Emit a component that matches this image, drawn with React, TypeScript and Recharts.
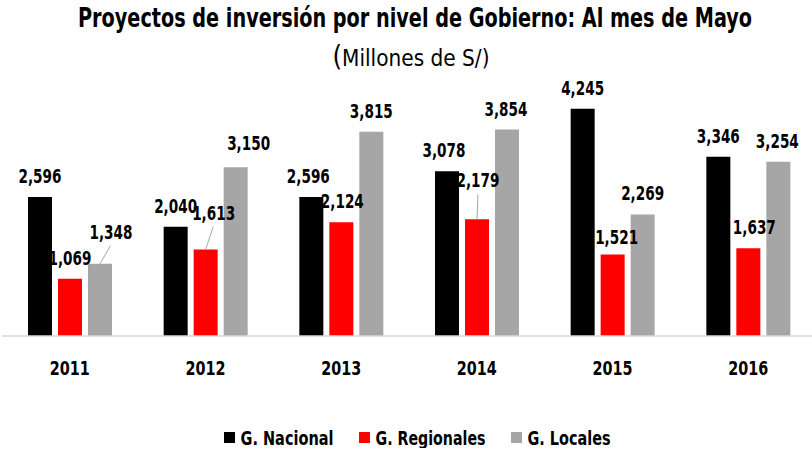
import React from "react";
import { Bar, BarChart, LabelList, Legend, XAxis, YAxis } from "recharts";

const years = ["2011", "2012", "2013", "2014", "2015", "2016"];
const nacional = [2596, 2040, 2596, 3078, 4245, 3346];
const regionales = [1069, 1613, 2124, 2179, 1521, 1637];
const locales = [1348, 3150, 3815, 3854, 2269, 3254];

const data = years.map((year, i) => ({
  year,
  nacional: nacional[i],
  regionales: regionales[i],
  locales: locales[i]
}));

// label nudges per bar: [dx, dy, leader line]
const nacionalLabelPos: [number, number, boolean][] = [
  [0, 0, false], [0, 0, false], [-3, 0, false], [-3, 0, false], [0, 0, false], [0, 0, false]
];
const regionalesLabelPos: [number, number, boolean][] = [
  [0, 0, false], [8, -16, true], [1, 0, false], [1, -18, true], [4, 3, false], [6, 0, false]
];
const localesLabelPos: [number, number, boolean][] = [
  [11, -11, true], [13, -3, false], [0, 0, false], [-1, 0, false], [0, 0, false], [-1, 0, false]
];

// the reference uses a tall, narrow face; squeeze a condensed font to match
const FONT = "'DejaVu Sans Condensed', 'Liberation Sans', Arial, sans-serif";

const COLORS = {
  nacional: "#000000",
  regionales: "#ff0000",
  locales: "#a6a6a6"
};

const makeLabel = (pos: [number, number, boolean][]) => (props: any) => {
  const { x, y, width, value, index } = props;
  const [dx, dy, leader] = pos[index] || [0, 0, false];
  const cx = Number(x) + Number(width) / 2;
  const lx = cx + dx;
  const ly = Number(y) - 21 + dy;
  const txt = Number(value).toLocaleString("en-US");
  return (
    <g>
      {leader && (
        <line x1={cx} y1={y} x2={cx + dx * 0.95} y2={ly + 14} stroke="#a6a6a6" strokeWidth={1} />
      )}
      <text
        x={lx}
        y={ly}
        textAnchor="middle"
        dominantBaseline="central"
        fontFamily={FONT}
        fontWeight="bold"
        fontSize={19}
        textLength={txt.length * 8.6}
        lengthAdjust="spacingAndGlyphs"
        fill="#000"
      >
        {txt}
      </text>
    </g>
  );
};

const YearTick = (props: any) => {
  const { x, payload } = props;
  return (
    <text
      x={x}
      y={368}
      textAnchor="middle"
      dominantBaseline="central"
      fontFamily={FONT}
      fontWeight="bold"
      fontSize={20}
      textLength={40}
      lengthAdjust="spacingAndGlyphs"
      fill="#000"
    >
      {payload.value}
    </text>
  );
};

const legendItems = [
  { name: "G. Nacional", color: COLORS.nacional, w: 93 },
  { name: "G. Regionales", color: COLORS.regionales, w: 110 },
  { name: "G. Locales", color: COLORS.locales, w: 83 }
];

const LegendContent = () => {
  let cursor = 222;
  return (
    <svg width={814} height={20} style={{ display: "block" }}>
      {legendItems.map((it) => {
        const sx = cursor;
        cursor += 11 + 5.5 + it.w + 25.5;
        return (
          <g key={it.name}>
            <rect x={sx} y={4} width={11} height={11} fill={it.color} />
            <text
              x={sx + 16.5}
              y={10}
              dominantBaseline="central"
              fontFamily={FONT}
              fontWeight="bold"
              fontSize={20}
              textLength={it.w}
              lengthAdjust="spacingAndGlyphs"
              fill="#000"
            >
              {it.name}
            </text>
          </g>
        );
      })}
    </svg>
  );
};

export default function App() {
  return (
    <div
      style={{
        position: "absolute",
        left: 0,
        top: 0,
        width: 812,
        height: 453,
        overflow: "hidden",
        background: "#fff"
      }}
    >
      <svg width={812} height={80} style={{ position: "absolute", left: 0, top: 0 }}>
        <text
          x={415}
          y={27}
          textAnchor="middle"
          fontFamily={FONT}
          fontWeight="bold"
          fontSize={26}
          textLength={674}
          lengthAdjust="spacingAndGlyphs"
          fill="#000"
        >
          Proyectos de inversión por nivel de Gobierno: Al mes de Mayo
        </text>
        <text
          x={411}
          y={66}
          textAnchor="middle"
          fontFamily={FONT}
          fontSize={23}
          textLength={157}
          lengthAdjust="spacingAndGlyphs"
          fill="#000"
        >
          <tspan fontSize={28}>(</tspan>Millones de S/)
        </text>
      </svg>
      <BarChart
        width={816}
        height={453}
        data={data}
        margin={{ top: 95, right: 0, left: 2, bottom: 5 }}
        barSize={24}
        barGap={6}
      >
        <XAxis
          dataKey="year"
          height={92}
          tickLine={false}
          axisLine={{ stroke: "#d9d9d9", strokeWidth: 1.5 }}
          tick={<YearTick />}
          interval={0}
        />
        <YAxis hide domain={[0, 4500]} />
        <Legend verticalAlign="bottom" align="center" content={<LegendContent />} />
        <Bar dataKey="nacional" name="G. Nacional" fill={COLORS.nacional} isAnimationActive={false}>
          <LabelList dataKey="nacional" content={makeLabel(nacionalLabelPos)} />
        </Bar>
        <Bar dataKey="regionales" name="G. Regionales" fill={COLORS.regionales} isAnimationActive={false}>
          <LabelList dataKey="regionales" content={makeLabel(regionalesLabelPos)} />
        </Bar>
        <Bar dataKey="locales" name="G. Locales" fill={COLORS.locales} isAnimationActive={false}>
          <LabelList dataKey="locales" content={makeLabel(localesLabelPos)} />
        </Bar>
      </BarChart>
    </div>
  );
}
